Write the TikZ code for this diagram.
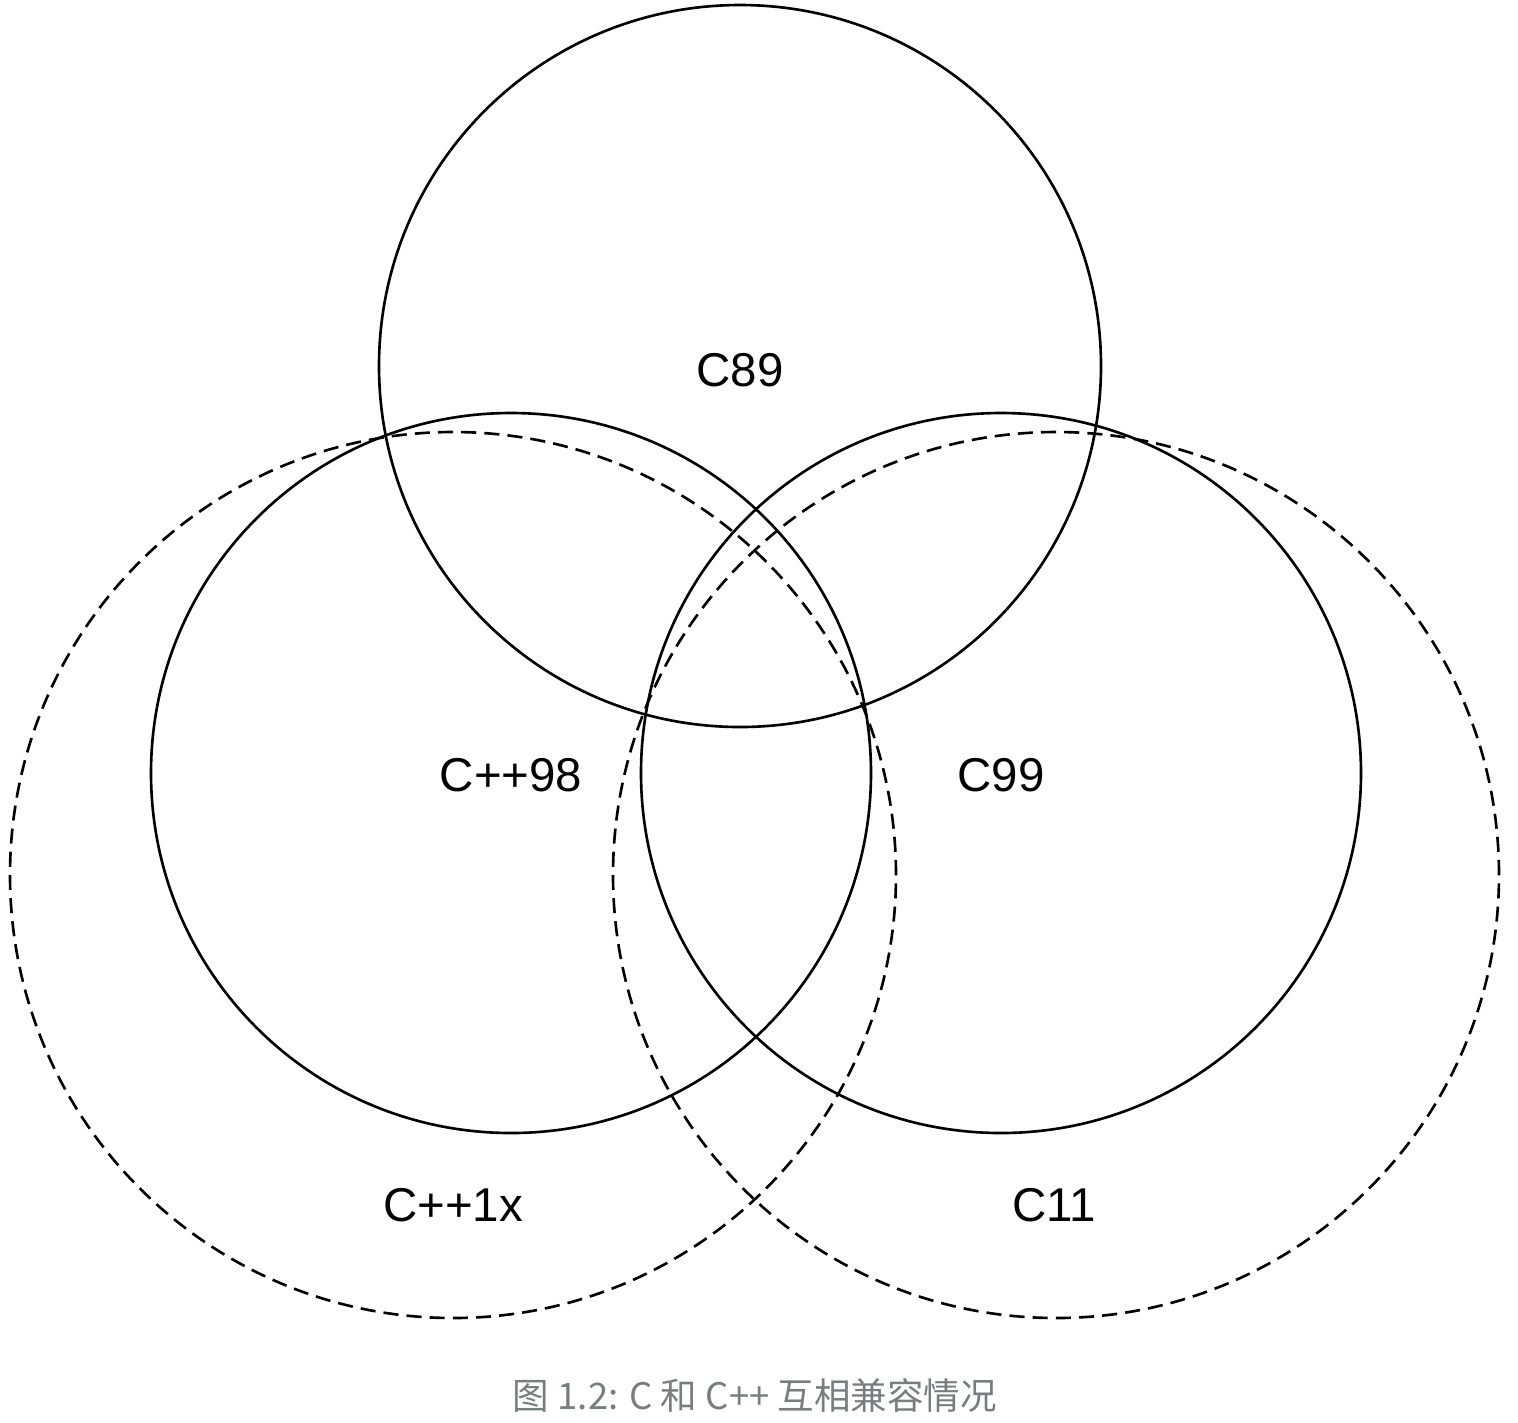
\documentclass[tikz,border=0pt]{standalone}
\usepackage{fontspec}
\setmainfont{Liberation Sans}
\newfontfamily\cjk{Noto Sans CJK SC}
\definecolor{capgray}{RGB}{120,126,126}
\tikzset{
  stdset/.style={line width=0.75pt},
  newset/.style={line width=0.75pt, dash pattern=on 4.3pt off 2.3pt},
  setname/.style={font=\fontsize{13.5}{16}\selectfont, inner sep=0pt}
}
\begin{document}
\begin{tikzpicture}
  \useasboundingbox (0,0) rectangle (15.18,-14.22);
  \draw[stdset] (7.40,-3.66) circle (3.61);
  \draw[stdset] (5.11,-7.73) circle (3.60);
  \draw[stdset] (10.01,-7.73) circle (3.60);
  \draw[newset] (4.53,-8.75) circle (4.43);
  \draw[newset] (10.56,-8.75) circle (4.43);

  \node[setname] (c89) at (7.40,-3.70) {C89};
  \node[setname] (cpp98) at (5.11,-7.75) {C++98};
  \node[setname] (c99) at (10.01,-7.75) {C99};
  \node[setname] (cpp1x) at (4.53,-12.05) {C++1x};
  \node[setname] (c11) at (10.54,-12.05) {C11};

  \node[font=\cjk\fontsize{10.4}{12}\selectfont, text=capgray, inner sep=0pt] (caption) at (7.55,-13.95) {图 1.2: C 和 C++ 互相兼容情况};
\end{tikzpicture}
\end{document}
